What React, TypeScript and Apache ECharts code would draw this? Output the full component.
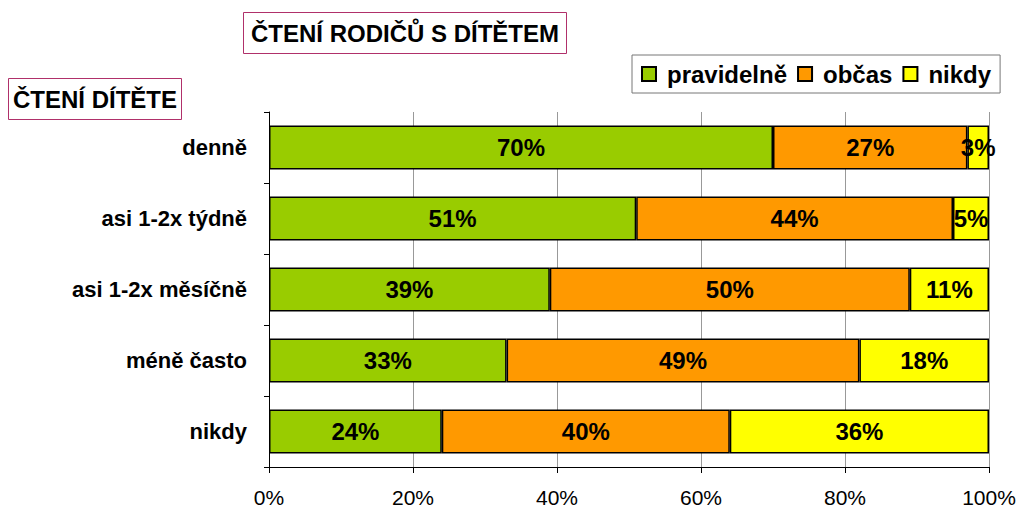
import React, { useEffect, useRef } from "react";
import * as echarts from "echarts";

const categories = ["denně", "asi 1-2x týdně", "asi 1-2x měsíčně", "méně často", "nikdy"];
const pravidelne = [70, 51, 39, 33, 24];
const obcas = [27, 44, 50, 49, 40];
const nikdy = [3, 5, 11, 18, 36];
const seriesNames = ["pravidelně", "občas", "nikdy"];
const colors = ["#99CC00", "#FF9900", "#FFFF00"];

const FONT = "Arial, 'Liberation Sans', Helvetica, sans-serif";

export default function App() {
  const ref = useRef<HTMLDivElement>(null);
  useEffect(() => {
    const chart = echarts.init(ref.current!, null, { renderer: "svg" });
    const data = [pravidelne, obcas, nikdy];
    chart.setOption({
      animation: false,
      backgroundColor: "#ffffff",
      textStyle: { fontFamily: FONT },
      title: [
        {
          text: "ČTENÍ RODIČŮ S DÍTĚTEM",
          left: 243,
          top: 12,
          padding: [9, 8, 9, 8],
          borderColor: "#B0306A",
          borderWidth: 1,
          textStyle: { fontFamily: FONT, fontSize: 24, fontWeight: "bold", color: "#000" },
        },
        {
          text: "ČTENÍ DÍTĚTE",
          left: 8,
          top: 78,
          padding: [9, 5, 9, 5],
          borderColor: "#B0306A",
          borderWidth: 1,
          textStyle: { fontFamily: FONT, fontSize: 24, fontWeight: "bold", color: "#000" },
        },
      ],
      legend: {
        data: seriesNames,
        left: 632,
        top: 55,
        padding: [7, 9, 7, 9],
        itemGap: 10,
        itemWidth: 14,
        itemHeight: 14,
        icon: "rect",
        borderColor: "#777",
        borderWidth: 1,
        textStyle: { fontFamily: FONT, fontSize: 24, fontWeight: "bold", color: "#000", padding: [0, 0, 0, 6] },
      },
      grid: { left: 269, right: 31, top: 112, height: 355 },
      xAxis: {
        type: "value",
        min: 0,
        max: 100,
        interval: 20,
        axisLine: { show: true, lineStyle: { color: "#000", width: 1 } },
        axisTick: { show: true, length: 6, lineStyle: { color: "#000" } },
        axisLabel: {
          formatter: "{value}%",
          fontFamily: FONT,
          fontSize: 21,
          color: "#000",
          margin: 20,
        },
        splitLine: { show: true, lineStyle: { color: "#999", width: 1 } },
      },
      yAxis: {
        type: "category",
        data: categories,
        inverse: true,
        axisLine: { show: true, lineStyle: { color: "#000", width: 1 } },
        axisTick: { show: true, length: 5, lineStyle: { color: "#000" } },
        axisLabel: {
          fontFamily: FONT,
          fontSize: 22,
          fontWeight: "bold",
          color: "#000",
          margin: 22,
        },
      },
      series: seriesNames.map((name, i) => ({
        name,
        type: "bar",
        stack: "total",
        barCategoryGap: "38%",
        data: data[i],
        itemStyle: { color: colors[i], borderColor: "#000", borderWidth: 1.5 },
        label: {
          show: true,
          position: "inside",
          formatter: "{c}%",
          fontFamily: FONT,
          fontSize: 24,
          fontWeight: "bold",
          color: "#000",
        },
      })),
    });
    return () => chart.dispose();
  }, []);
  return <div ref={ref} style={{ width: 1020, height: 509, position: "absolute", left: 0, top: 0 }} />;
}
